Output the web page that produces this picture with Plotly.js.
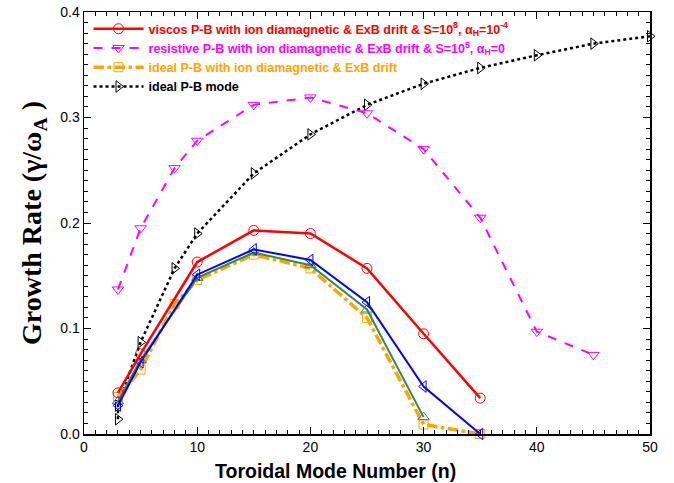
<!DOCTYPE html>
<html><head><meta charset="utf-8">
<script src="https://cdn.plot.ly/plotly-3.0.1.min.js"></script>
<style>body{margin:0;background:#fff}#c{width:674px;height:483px}</style>
</head><body><div id="c"></div>
<script>
// Data
const nVisc = [3, 5, 10, 15, 20, 25, 30, 35];
const gVisc = [0.039, 0.076, 0.163, 0.193, 0.190, 0.157, 0.095, 0.034];

const nRes = [3, 5, 8, 10, 15, 20, 25, 30, 35, 40, 45];
const gRes = [0.137, 0.195, 0.252, 0.278, 0.312, 0.319, 0.304, 0.270, 0.205, 0.097, 0.075];

const nIdDia = [3, 5, 8, 10, 15, 20, 25, 30, 35];
const gIdDia = [0.035, 0.061, 0.123, 0.146, 0.170, 0.157, 0.110, 0.009, 0.0];

const nIdeal = [3, 3, 5, 8, 10, 15, 20, 25, 30, 35, 40, 45, 50];
const gIdeal = [0.014, 0.027, 0.087, 0.157, 0.190, 0.247, 0.284, 0.312, 0.332, 0.347, 0.359, 0.370, 0.377];

const nBlue = [3, 5, 10, 15, 20, 25, 30, 35];
const gBlue = [0.027, 0.068, 0.151, 0.175, 0.165, 0.125, 0.045, 0.0];

const nGreen = [3, 5, 10, 15, 20, 25, 30];
const gGreen = [0.031, 0.070, 0.148, 0.172, 0.160, 0.118, 0.016];

const labels = [
  "viscos P-B with ion diamagnetic &amp; ExB drift &amp; S=10<sup>8</sup>, α<sub>H</sub>=10<sup>-4</sup>",
  "resistive P-B with ion diamagnetic &amp; ExB drift &amp; S=10<sup>5</sup>, α<sub>H</sub>=0",
  "ideal P-B with ion diamagnetic &amp; ExB drift",
  "ideal P-B mode"
];
const xTitle = 'Toroidal Mode Number (n)';
const yTitle = 'Growth Rate (γ/ω<sub>A</sub> )';

const traces = [
  {x: nIdeal, y: gIdeal, name: labels[3], legendrank: 4, mode: 'lines+markers', cliponaxis: false,
   line: {color: '#000', width: 2.5, dash: 'dot'},
   marker: {symbol: 'triangle-right-open', size: 10, color: '#000', line: {width: 1}}},
  {x: nRes, y: gRes, name: labels[1], legendrank: 2, mode: 'lines+markers', cliponaxis: false,
   line: {color: '#ff00ff', width: 2, dash: 'dash'},
   marker: {symbol: 'triangle-down-open', size: 10, color: '#ff00ff', line: {width: 1}}},
  {x: nIdDia, y: gIdDia, name: labels[2], legendrank: 3, mode: 'lines+markers', cliponaxis: false,
   line: {color: '#ffa500', width: 3.5, dash: 'dashdot'},
   marker: {symbol: 'square-open', size: 9, color: '#ffa500', line: {width: 1}}},
  {x: nGreen, y: gGreen, name: 'g', showlegend: false, mode: 'lines+markers', cliponaxis: false,
   line: {color: '#2e8b57', width: 2},
   marker: {symbol: 'triangle-up-open', size: 10, color: '#2e8b57', line: {width: 1}}},
  {x: nBlue, y: gBlue, name: 'b', showlegend: false, mode: 'lines+markers', cliponaxis: false,
   line: {color: '#0000ff', width: 2},
   marker: {symbol: 'triangle-left-open', size: 10, color: '#0000ff', line: {width: 1}}},
  {x: nVisc, y: gVisc, name: labels[0], legendrank: 1, mode: 'lines+markers', cliponaxis: false,
   line: {color: '#ff0000', width: 2.5},
   marker: {symbol: 'circle-open', size: 10, color: '#ff0000', line: {width: 1}}}
];

const axisCommon = {
  showgrid: false, zeroline: false, showline: true, linecolor: '#000', linewidth: 1.5,
  mirror: 'ticks', ticks: 'inside', ticklen: 7, tickwidth: 1, tickcolor: '#000',
  tickfont: {family: 'Liberation Sans, Arial, sans-serif', size: 14, color: '#000'}
};

const layout = {
  width: 674, height: 483,
  margin: {l: 84, r: 24, t: 12, b: 49},
  paper_bgcolor: '#fff', plot_bgcolor: '#fff',
  showlegend: true,
  legend: {x: 0.008, y: 0.995, xanchor: 'left', yanchor: 'top', bgcolor: 'rgba(0,0,0,0)',
           font: {family: 'Liberation Sans, Arial, sans-serif', size: 12.5, color: '#000', weight: 'bold'},
           tracegroupgap: 0, itemwidth: 50},
  xaxis: Object.assign({}, axisCommon, {
    range: [0, 50], tickvals: [0, 10, 20, 30, 40, 50],
    minor: {dtick: 1, ticks: 'inside', ticklen: 4, tickcolor: '#000'}
  }),
  yaxis: Object.assign({}, axisCommon, {
    range: [0, 0.4], tickvals: [0, 0.1, 0.2, 0.3, 0.4], ticktext: ['0.0', '0.1', '0.2', '0.3', '0.4'],
    minor: {dtick: 0.01, ticks: 'inside', ticklen: 4, tickcolor: '#000'},
    title: {text: yTitle, standoff: 10,
            font: {family: 'Liberation Serif, Times New Roman, serif', size: 28, color: '#000', weight: 'bold'}}
  }),
  annotations: [{
    text: xTitle, xref: 'paper', yref: 'paper', x: 0.4435, y: -0.058, xanchor: 'center', yanchor: 'top',
    showarrow: false,
    font: {family: 'Liberation Sans, Arial, sans-serif', size: 19.5, color: '#000', weight: 'bold'}
  }]
};

Plotly.newPlot('c', traces, layout, {displayModeBar: false, staticPlot: true}).then(() => {
  const cols = {};
  traces.forEach(t => { if (t.showlegend !== false) cols[t.name] = t.line.color; });
  document.querySelectorAll('.legendtext').forEach(el => {
    const tr = el.closest('.traces');
    const d = tr && tr.__data__ && tr.__data__[0] && tr.__data__[0].trace;
    if (d && cols[d.name]) el.style.fill = cols[d.name];
  });
});
</script>
</body></html>
